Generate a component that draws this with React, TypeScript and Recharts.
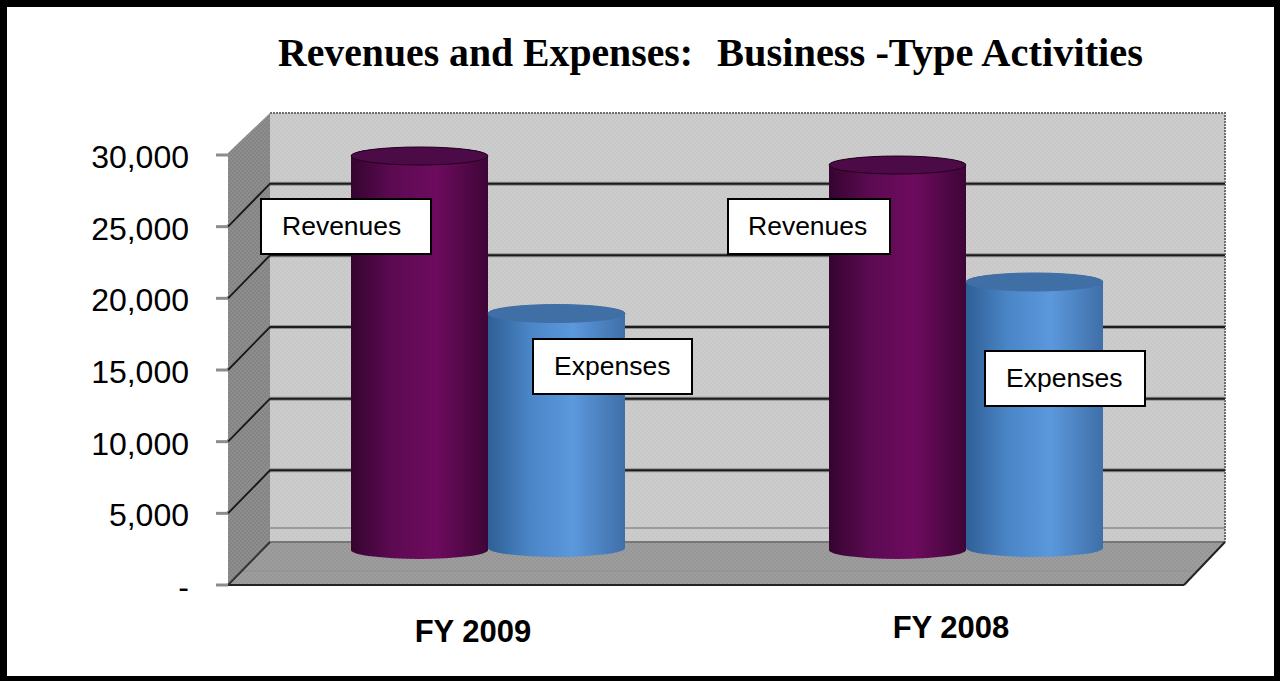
import React from 'react';
import { BarChart, Bar, XAxis, YAxis, CartesianGrid, ReferenceArea } from "recharts";

const years = ["FY 2009", "FY 2008"];
const revenues = [27490, 26860];
const expenses = [16360, 18560];
const yTicks = [0, 5000, 10000, 15000, 20000, 25000, 30000];

const data = years.map((year, i) => ({ year, revenues: revenues[i], expenses: expenses[i] }));

// callout boxes sitting on top of the chart
const CALLOUTS = [
  { text: "Revenues", left: 260, top: 198, width: 172, height: 57, pad: 22 },
  { text: "Revenues", left: 727, top: 198, width: 164, height: 57, pad: 21 },
  { text: "Expenses", left: 532, top: 338, width: 161, height: 57, pad: 22 },
  { text: "Expenses", left: 984, top: 350, width: 162, height: 57, pad: 22 },
];

// how far the back wall sits from the front plane
const DEPTH_X = 42;
const DEPTH_Y = -43;

const formatTick = (v: number) => (v === 0 ? "-" : v.toLocaleString("en-US"));

const Walls = ({ x, y, width, height }: any) => {
  const bottom = y + height;
  const right = x + width;
  const backX = x + DEPTH_X;
  const backRight = right + DEPTH_X - 1;
  const backTop = y + DEPTH_Y + 1;
  const backBottom = bottom + DEPTH_Y;
  return (
    <g>
      <rect x={backX} y={backTop} width={backRight - backX} height={backBottom - backTop} fill="url(#wallDots)" />
      <line x1={backX} y1={backBottom - 14} x2={backRight} y2={backBottom - 14} stroke="#9c9c9c" strokeWidth={2} />
      <path d={`M${backX} ${backTop}H${backRight}V${backBottom}`} fill="none" stroke="#6e6e6e" strokeWidth={2} strokeDasharray="2 1" />
      <polygon points={`${x},${y - 2} ${backX},${backTop} ${backX},${backBottom} ${x},${bottom}`} fill="url(#sideDots)" />
      <polygon points={`${x},${bottom} ${backX},${backBottom} ${backRight},${backBottom} ${right},${bottom}`} fill="url(#floorDots)" />
      <line x1={x + 13} y1={bottom - 14} x2={right + 13} y2={bottom - 14} stroke="#8f8f8f" strokeWidth={1} />
      <line x1={backX} y1={backBottom} x2={backRight} y2={backBottom} stroke="#777" strokeWidth={2} />
      <line x1={x} y1={bottom} x2={right} y2={bottom} stroke="#222" strokeWidth={2} />
      <line x1={right} y1={bottom} x2={backRight} y2={backBottom} stroke="#222" strokeWidth={2} />
      <line x1={x} y1={bottom} x2={backX} y2={backBottom} stroke="#333" strokeWidth={2} />
    </g>
  );
};

const GridRung = ({ x1, x2, y1, index }: any) => {
  // first and last rung are the floor and the top edge
  if (index === 0 || index === yTicks.length - 1) return <g key={`rung-${index}`} />;
  const bx = x1 + DEPTH_X;
  const by = y1 + DEPTH_Y;
  const d = `M${x1} ${y1}L${bx} ${by}H${x2 + DEPTH_X - 1}`;
  return (
    <g key={`rung-${index}`}>
      <path d={d} fill="none" stroke="#8e8e8e" strokeWidth={4} />
      <path d={d} fill="none" stroke="#1c1c1c" strokeWidth={2} />
    </g>
  );
};

const Cylinder = ({ x, y, width, height, fill, topFill, rim, lift }: any) => {
  const RY = 9;
  const dx = DEPTH_X / 2;
  const left = x + dx;
  const right = left + width;
  const top = y + lift;
  const base = top + height;
  return (
    <g>
      <path
        d={`M${left} ${top}V${base}A${width / 2} ${RY} 0 0 0 ${right} ${base}V${top}A${width / 2} ${RY} 0 0 0 ${left} ${top}Z`}
        fill={fill}
      />
      <ellipse cx={left + width / 2} cy={top} rx={width / 2} ry={RY} fill={topFill} stroke={rim} strokeWidth={1} />
    </g>
  );
};

const YTick = ({ x, y, payload }: any) => (
  <text x={x} y={y + 13} textAnchor="end" fontFamily="Liberation Sans" fontSize={32} fill="#000">
    {formatTick(payload.value)}
  </text>
);

const XTick = ({ x, y, payload, index }: any) => (
  <text
    x={x + 6}
    y={y + (index === 0 ? 49 : 45)}
    textAnchor="middle"
    fontFamily="Liberation Sans"
    fontWeight="bold"
    fontSize={31}
    fill="#000"
  >
    {payload.value}
  </text>
);

const Stops = ({ id, colors }: { id: string; colors: string[] }) => (
  <linearGradient id={id} x1="0" y1="0" x2="1" y2="0">
    <stop offset="0%" stopColor={colors[0]} />
    <stop offset="30%" stopColor={colors[1]} />
    <stop offset="62%" stopColor={colors[2]} />
    <stop offset="100%" stopColor={colors[3]} />
  </linearGradient>
);

const Dots = ({ id, a, b }: { id: string; a: string; b: string }) => (
  <pattern id={id} width={4} height={4} patternUnits="userSpaceOnUse">
    <rect width={4} height={4} fill={a} />
    <rect width={2} height={2} fill={b} />
    <rect x={2} y={2} width={2} height={2} fill={b} />
  </pattern>
);

const App = () => {
  return (
    <div style={{ position: "fixed", left: 0, top: 0, width: 1280, height: 681, background: "#000", overflow: "hidden" }}>
      <div style={{ position: "absolute", left: 7, top: 7, width: 1267, height: 669, background: "#fff" }} />
      <div style={{ position: "absolute", left: 0, top: 0 }}>
        <BarChart
          width={1280}
          height={681}
          data={data}
          barSize={137}
          barGap={0}
          margin={{ top: 155, right: 96, bottom: 66, left: 98 }}
        >
          <defs>
            <Stops id="revFill" colors={["#35042f", "#5c0a52", "#6d0b5e", "#3e0537"]} />
            <Stops id="expFill" colors={["#2f5f96", "#4a85c6", "#5b98dc", "#3f6fa8"]} />
            <Dots id="wallDots" a="#cccccc" b="#c8c8c8" />
            <Dots id="sideDots" a="#8e8e8e" b="#848484" />
            <Dots id="floorDots" a="#9e9e9e" b="#969696" />
          </defs>
          <ReferenceArea shape={<Walls />} ifOverflow="visible" zIndex={-200} />
          <CartesianGrid vertical={false} horizontal={(p: any) => <GridRung {...p} />} />
          <XAxis dataKey="year" axisLine={false} tickLine={false} tick={<XTick />} interval={0} />
          <YAxis
            width={130}
            domain={[0, 30000]}
            ticks={yTicks}
            axisLine={false}
            tickLine={{ stroke: "#8c8c8c", strokeWidth: 3 }}
            tickSize={12}
            tickMargin={27}
            tick={<YTick />}
          />
          <Bar
            dataKey="revenues"
            fill="url(#revFill)"
            isAnimationActive={false}
            shape={(p: any) => <Cylinder {...p} topFill="#4c0a46" rim="#22021f" lift={-35} />}
          />
          <Bar
            dataKey="expenses"
            fill="url(#expFill)"
            isAnimationActive={false}
            shape={(p: any) => <Cylinder {...p} topFill="#3f6fa5" rim="#3f6fa5" lift={-37} />}
          />
          <text x={278} y={66} fontFamily="Liberation Serif" fontWeight="bold" fontSize={39} textLength={415} lengthAdjust="spacingAndGlyphs" fill="#000">
            Revenues and Expenses:
          </text>
          <text x={717} y={66} fontFamily="Liberation Serif" fontWeight="bold" fontSize={39} textLength={426} lengthAdjust="spacingAndGlyphs" fill="#000">
            Business -Type Activities
          </text>
        </BarChart>
      </div>
      {CALLOUTS.map((c, i) => (
        <div
          key={i}
          style={{
            position: "absolute",
            left: c.left,
            top: c.top,
            width: c.width,
            height: c.height,
            boxSizing: "border-box",
            border: "2px solid #000",
            background: "#fff",
            paddingLeft: c.pad - 2,
            lineHeight: `${c.height - 4}px`,
            fontFamily: "Liberation Sans",
            fontSize: 26.5,
            color: "#000",
          }}
        >
          {c.text}
        </div>
      ))}
    </div>
  );
};

export default App;
